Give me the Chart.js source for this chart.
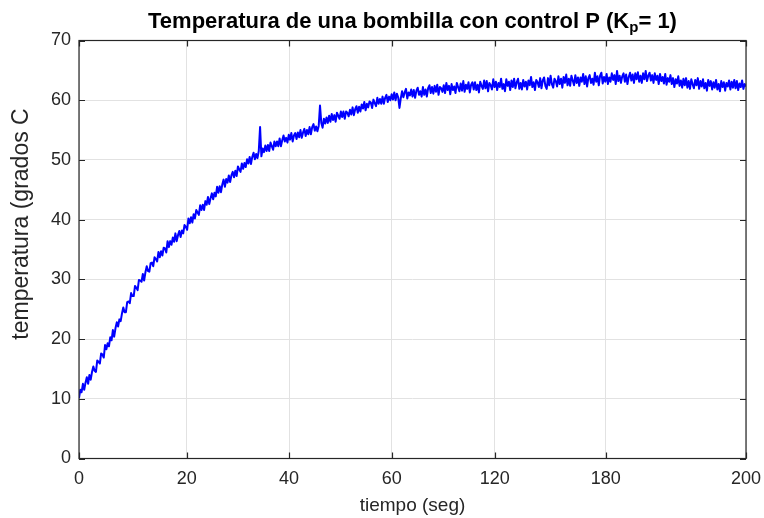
<!DOCTYPE html>
<html>
<head>
<meta charset="utf-8">
<script src="https://cdn.jsdelivr.net/npm/chart.js@4.4.1/dist/chart.umd.min.js"></script>
<style>
  html, body { margin: 0; padding: 0; background: #ffffff; }
  #wrap { width: 764px; height: 518px; }
</style>
</head>
<body>
<div id="wrap"><canvas id="c" width="764" height="518"></canvas></div>
<script>
// ---------- data ----------
const titleMain = 'Temperatura de una bombilla con control P (K';
const titleSub = 'p';
const titleEnd = '= 1)';
const xAxisTitle = 'tiempo (seg)';
const yAxisTitle = 'temperatura (grados C';

// x tick locations (axis units) and the labels printed at them
const xTickAt = [0, 20.7, 40.3, 60, 79.8, 101.1, 128];
const xTickLabels = ['0', '20', '40', '60', '120', '180', '200'];
const yTicks = [0, 10, 20, 30, 40, 50, 60, 70];

// sample spacing along the x axis (axis units)
const sampleStep = 0.25;

// temperature samples (grados C), one every sampleStep
const temperatura = [
  10.1, 11.5, 11.1, 12.5, 11.5, 12.7, 13.6, 12.5,
  14.0, 13.2, 14.5, 15.4, 14.7, 14.5, 16.4, 16.2,
  15.9, 17.6, 17.4, 16.9, 19.0, 18.3, 19.3, 18.8,
  20.3, 19.8, 21.5, 20.4, 21.8, 22.8, 22.1, 23.3,
  23.0, 24.3, 25.3, 24.5, 24.5, 26.2, 26.3, 26.0,
  27.7, 27.2, 27.2, 28.9, 28.6, 28.2, 29.9, 29.8,
  29.6, 30.9, 29.8, 31.2, 32.2, 31.4, 31.3, 32.7,
  32.8, 32.2, 33.7, 33.4, 33.0, 34.6, 33.7, 34.7,
  34.0, 35.3, 35.2, 34.5, 36.4, 35.4, 36.4, 35.8,
  37.0, 36.3, 37.7, 36.4, 37.4, 38.1, 37.1, 38.2,
  37.7, 39.1, 38.8, 38.3, 40.2, 39.4, 40.4, 39.5,
  40.9, 40.2, 41.6, 41.2, 40.8, 42.4, 41.6, 42.5,
  41.6, 43.1, 42.5, 43.8, 42.6, 43.6, 44.4, 43.4,
  44.5, 43.9, 45.5, 44.5, 45.6, 44.6, 45.9, 46.7,
  45.5, 46.8, 46.2, 47.4, 46.3, 47.4, 48.0, 47.1,
  48.2, 47.3, 48.9, 48.4, 48.0, 49.4, 48.5, 49.5,
  48.8, 50.1, 49.4, 50.5, 49.3, 50.5, 51.2, 50.1,
  51.0, 50.3, 51.5, 55.5, 50.6, 51.9, 51.3, 52.4,
  51.5, 52.5, 51.5, 52.9, 52.3, 51.7, 53.1, 52.3,
  53.1, 52.3, 53.6, 52.3, 53.3, 54.1, 53.1, 53.7,
  52.9, 54.2, 53.4, 54.5, 53.1, 54.1, 54.5, 53.5,
  54.6, 53.8, 55.0, 53.7, 54.6, 55.2, 54.0, 55.0,
  54.3, 55.5, 54.3, 55.5, 56.0, 54.9, 55.6, 54.8,
  55.7, 59.1, 56.2, 55.4, 56.9, 56.1, 57.1, 56.2,
  57.4, 56.4, 57.7, 56.7, 57.5, 56.4, 57.9, 57.4,
  56.9, 58.1, 57.2, 58.1, 56.9, 58.1, 57.9, 57.3,
  58.4, 57.6, 58.8, 57.5, 58.5, 59.0, 57.9, 58.9,
  58.1, 59.3, 58.6, 59.7, 58.3, 59.4, 58.8, 59.8,
  59.6, 58.7, 60.1, 59.5, 59.0, 60.4, 59.4, 60.2,
  59.4, 60.6, 59.4, 60.4, 60.9, 59.7, 60.6, 60.0,
  61.0, 60.1, 61.3, 60.0, 61.1, 60.5, 58.7, 60.3,
  61.5, 60.5, 61.3, 61.9, 60.3, 61.3, 60.8, 61.8,
  60.6, 61.7, 60.4, 61.6, 62.1, 60.9, 61.5, 60.6,
  62.2, 60.9, 61.8, 60.6, 62.0, 62.5, 61.2, 62.2,
  61.1, 62.4, 61.4, 62.6, 60.9, 62.2, 62.0, 61.4,
  62.5, 61.2, 62.9, 61.7, 62.4, 61.0, 62.7, 61.7,
  62.3, 61.2, 62.9, 62.2, 61.5, 62.8, 61.6, 63.2,
  61.4, 62.6, 61.9, 63.0, 61.3, 62.6, 63.0, 61.8,
  63.0, 61.7, 62.6, 61.3, 63.1, 62.4, 61.9, 63.3,
  62.0, 63.2, 61.5, 62.9, 62.5, 61.8, 63.5, 62.2,
  63.1, 61.7, 62.9, 62.2, 63.6, 61.9, 62.7, 61.5,
  63.5, 62.4, 63.1, 61.7, 63.3, 62.2, 63.6, 62.0,
  63.0, 63.6, 61.9, 62.9, 61.8, 63.4, 62.3, 63.1,
  61.8, 63.3, 62.5, 63.9, 62.2, 63.0, 61.7, 63.4,
  63.0, 62.2, 63.7, 62.0, 63.3, 63.8, 62.4, 61.9,
  63.7, 62.5, 64.1, 62.7, 62.1, 63.6, 63.2, 62.3,
  64.0, 62.7, 63.6, 62.1, 63.9, 62.9, 64.3, 62.5,
  63.6, 62.4, 64.1, 63.3, 62.5, 64.2, 62.9, 63.8,
  62.4, 63.8, 63.1, 64.4, 62.7, 64.0, 62.3, 63.7,
  64.2, 62.9, 63.6, 62.6, 64.6, 63.1, 64.0, 62.5,
  64.1, 64.6, 62.8, 63.9, 63.1, 64.4, 62.7, 63.8,
  63.1, 64.5, 63.4, 64.2, 62.7, 64.9, 63.2, 64.1,
  62.9, 64.0, 64.5, 63.1, 64.3, 62.7, 63.9, 64.6,
  63.3, 64.3, 62.9, 64.5, 63.5, 64.7, 63.1, 64.1,
  62.9, 64.5, 63.5, 64.9, 63.2, 64.1, 64.6, 63.3,
  64.2, 62.9, 64.5, 63.4, 64.1, 62.7, 64.4, 63.2,
  63.9, 62.8, 64.4, 62.6, 63.7, 63.1, 64.2, 62.7,
  63.7, 62.2, 63.5, 62.8, 64.0, 62.4, 63.3, 62.1,
  63.6, 62.5, 63.7, 62.1, 63.2, 61.9, 63.5, 62.7,
  62.0, 63.4, 62.5, 63.7, 61.9, 63.2, 62.3, 63.5,
  62.0, 62.9, 61.6, 63.4, 62.4, 63.2, 61.8, 63.0,
  62.1, 63.4, 61.8, 62.7, 61.5, 63.2, 62.2, 63.0,
  61.6, 62.9, 62.3, 63.3, 61.8, 63.1, 62.1, 63.4,
  62.0, 63.2, 61.7, 62.8, 62.2, 63.3, 61.9, 62.7,
  62.3
];

// ---------- styling ----------
const FONT = "'Liberation Sans', Arial, 'DejaVu Sans', sans-serif";
const AXIS_COLOR = '#262626';
const GRID_COLOR = '#e2e2e2';

const points = temperatura.map((v, i) => ({ x: i * sampleStep, y: v }));

// MATLAB-like box with inward tick marks, title with subscript, y label
const decorPlugin = {
  id: 'matlabDecor',
  afterDraw(chart) {
    const { ctx, chartArea: a, scales } = chart;
    ctx.save();
    // box
    ctx.strokeStyle = AXIS_COLOR;
    ctx.lineWidth = 1.2;
    ctx.strokeRect(a.left, a.top, a.right - a.left, a.bottom - a.top);
    const L = 6;
    ctx.beginPath();
    scales.x.ticks.forEach(t => {
      const px = Math.round(scales.x.getPixelForValue(t.value)) + 0.5;
      ctx.moveTo(px, a.bottom); ctx.lineTo(px, a.bottom - L);
      ctx.moveTo(px, a.top); ctx.lineTo(px, a.top + L);
    });
    scales.y.ticks.forEach(t => {
      const py = Math.round(scales.y.getPixelForValue(t.value)) + 0.5;
      ctx.moveTo(a.left, py); ctx.lineTo(a.left + L, py);
      ctx.moveTo(a.right, py); ctx.lineTo(a.right - L, py);
    });
    ctx.stroke();

    // title with subscript, centred over the plot area
    const mainFont = "bold 22px " + FONT;
    const subFont = "bold 15px " + FONT;
    ctx.fillStyle = '#000000';
    ctx.textBaseline = 'alphabetic';
    ctx.textAlign = 'left';
    ctx.font = mainFont;
    const w1 = ctx.measureText(titleMain).width;
    const w3 = ctx.measureText(titleEnd).width;
    ctx.font = subFont;
    const w2 = ctx.measureText(titleSub).width;
    const total = w1 + w2 + w3;
    let x = (a.left + a.right) / 2 - total / 2;
    const base = 28;
    ctx.font = mainFont;
    ctx.fillText(titleMain, x, base); x += w1;
    ctx.font = subFont;
    ctx.fillText(titleSub, x, base + 4); x += w2;
    ctx.font = mainFont;
    ctx.fillText(titleEnd, x, base);

    // y axis label
    ctx.save();
    ctx.translate(22, 224);
    ctx.rotate(-Math.PI / 2);
    ctx.font = "23px " + FONT;
    ctx.fillStyle = AXIS_COLOR;
    ctx.textAlign = 'center';
    ctx.textBaseline = 'middle';
    ctx.fillText(yAxisTitle, 0, 0);
    ctx.restore();

    ctx.restore();
  }
};

new Chart(document.getElementById('c'), {
  type: 'line',
  data: {
    datasets: [{
      data: points,
      borderColor: '#0000ff',
      borderWidth: 2,
      borderJoinStyle: 'round',
      pointRadius: 0,
      tension: 0,
      fill: false
    }]
  },
  options: {
    responsive: false,
    animation: false,
    layout: { padding: { left: 0, right: 18, top: 40.5, bottom: 0 } },
    plugins: {
      legend: { display: false },
      tooltip: { enabled: false },
      title: { display: false }
    },
    scales: {
      x: {
        type: 'linear',
        min: xTickAt[0],
        max: xTickAt[xTickAt.length - 1],
        afterBuildTicks: s => { s.ticks = xTickAt.map(v => ({ value: v })); },
        afterFit: s => { s.height = 518 - 458.5; s.paddingLeft = 0; s.paddingRight = 0; },
        ticks: {
          autoSkip: false,
          maxRotation: 0,
          color: AXIS_COLOR,
          font: { family: FONT, size: 18 },
          padding: 10,
          callback: (v, i) => xTickLabels[i]
        },
        grid: { color: GRID_COLOR, drawTicks: false, lineWidth: 1 },
        border: { display: false },
        title: {
          display: true,
          text: xAxisTitle,
          color: AXIS_COLOR,
          font: { family: FONT, size: 19 },
          padding: { top: 0, bottom: 0.6 }
        }
      },
      y: {
        min: yTicks[0],
        max: yTicks[yTicks.length - 1],
        afterBuildTicks: s => { s.ticks = yTicks.map(v => ({ value: v })); },
        afterFit: s => { s.width = 79; s.paddingTop = 0; s.paddingBottom = 0; },
        ticks: {
          color: AXIS_COLOR,
          font: { family: FONT, size: 18 },
          padding: 8
        },
        grid: { color: GRID_COLOR, drawTicks: false, lineWidth: 1 },
        border: { display: false },
        title: { display: false }
      }
    }
  },
  plugins: [decorPlugin]
});
</script>
</body>
</html>
